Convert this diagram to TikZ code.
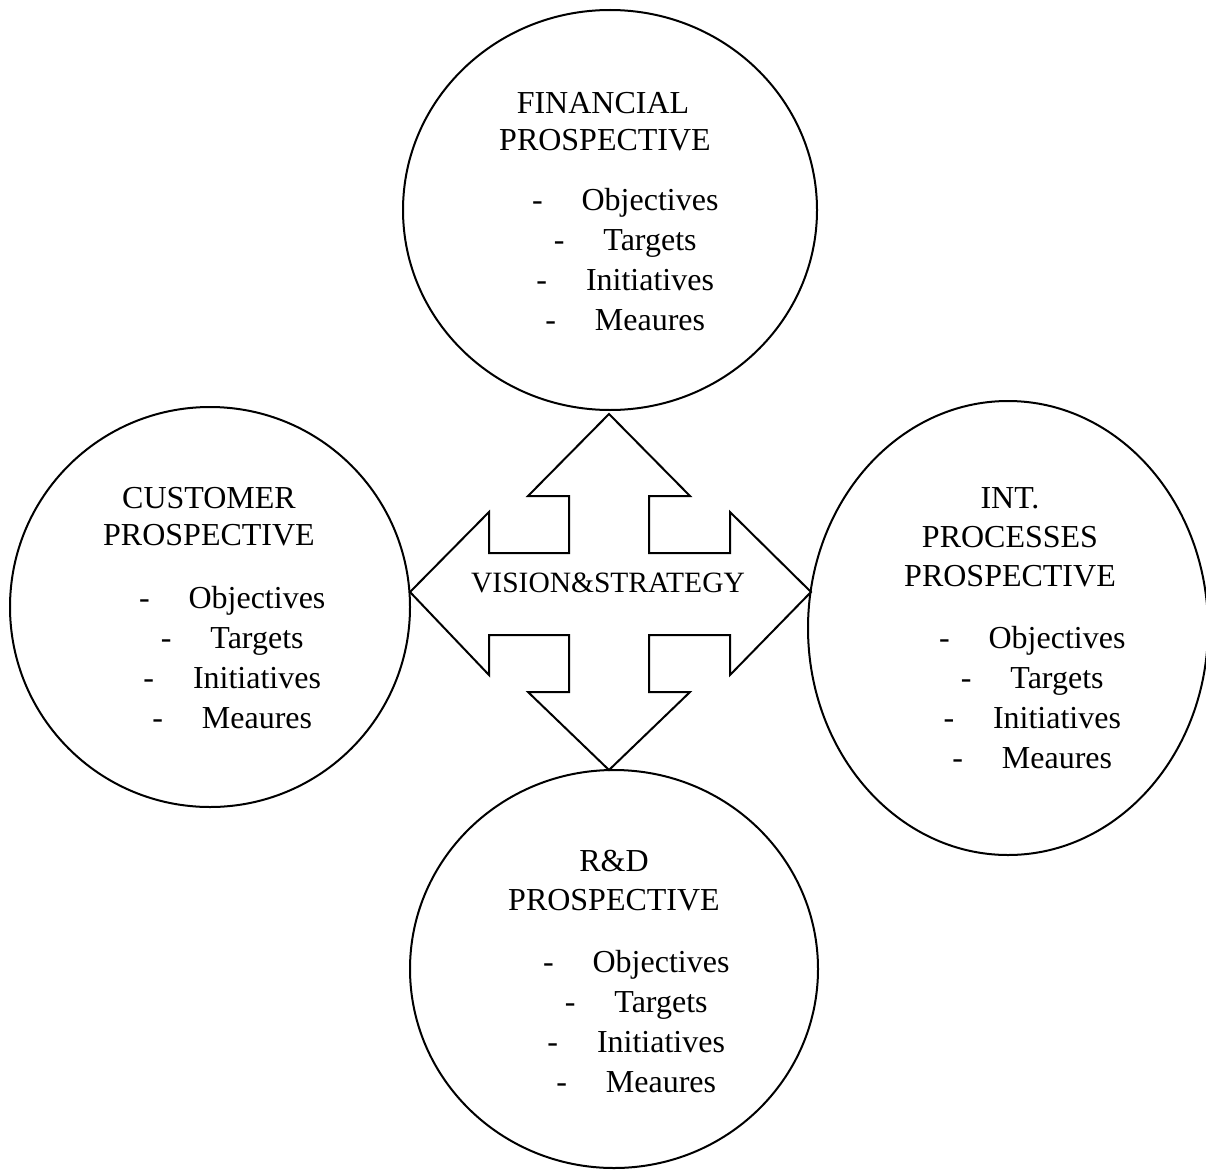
\documentclass[tikz,border=0pt]{standalone}
\usepackage{fontspec}
\setmainfont{Liberation Serif}
\usetikzlibrary{shapes.geometric}
\tikzset{
  persp/.style={draw, ellipse, line width=2pt, inner sep=0pt},
  txt/.style={inner sep=0pt, anchor=base, font=\fontsize{32}{38}\selectfont},
  vstxt/.style={inner sep=0pt, anchor=base, font=\fontsize{29.5}{34}\selectfont},
  bigarrow/.style={draw, line width=2pt, line join=miter, fill=white},
}
\newcommand\mybullets[3]{%
  \node[txt] (#1o) at (#2,#3) {Objectives};
  \node[txt] (#1t) at (#2,#3+40) {Targets};
  \node[txt] (#1i) at (#2,#3+80) {Initiatives};
  \node[txt] (#1m) at (#2,#3+120) {Meaures};
  \node[txt] (#1od) at ([xshift=-44pt]#1o.base west) {-};
  \node[txt] (#1td) at ([xshift=-44pt]#1t.base west) {-};
  \node[txt] (#1id) at ([xshift=-44pt]#1i.base west) {-};
  \node[txt] (#1md) at ([xshift=-44pt]#1m.base west) {-};
}
\begin{document}
\begin{tikzpicture}[x=1pt, y=-1pt]
\useasboundingbox (0,0) rectangle (1206,1169);
\clip (0,0) rectangle (1206,1169);
\fill[white] (0,0) rectangle (1206,1169);
% circles
\node[persp, minimum width=414pt, minimum height=400pt] (fin) at (610,210) {};
\node[persp, minimum width=400pt, minimum height=400pt] (cus) at (210,607) {};
\node[persp, minimum width=400pt, minimum height=454pt] (int) at (1008,628) {};
\node[persp, minimum width=408pt, minimum height=398pt] (rnd) at (614,969) {};
% central four-way arrow
\draw[bigarrow] (609,414) -- (690,496) -- (649,496) -- (649,553) -- (730,553)
  -- (730,512) -- (811,592) -- (730,675) -- (730,635) -- (649,635) -- (649,692)
  -- (690,692) -- (609,770) -- (528,692) -- (569,692) -- (569,635) -- (489,635)
  -- (489,675) -- (410,592) -- (489,512) -- (489,553) -- (569,553) -- (569,496)
  -- (528,496) -- cycle;
\node[vstxt] (vs) at (608,592) {VISION\&STRATEGY};
% financial
\node[txt] (finh1) at (603,114) {FINANCIAL};
\node[txt] (finh2) at (605,151) {PROSPECTIVE};
\mybullets{fin}{650}{210}
% customer
\node[txt] (cush1) at (209,508) {CUSTOMER};
\node[txt] (cush2) at (209,545) {PROSPECTIVE};
\mybullets{cus}{257}{608}
% internal processes
\node[txt] (inth1) at (1010,508) {INT.};
\node[txt] (inth2) at (1010,547) {PROCESSES};
\node[txt] (inth3) at (1010,586) {PROSPECTIVE};
\mybullets{int}{1057}{648}
% R&D
\node[txt] (rndh1) at (614,871) {R\&D};
\node[txt] (rndh2) at (614,910) {PROSPECTIVE};
\mybullets{rnd}{661}{972}
\end{tikzpicture}
\end{document}
